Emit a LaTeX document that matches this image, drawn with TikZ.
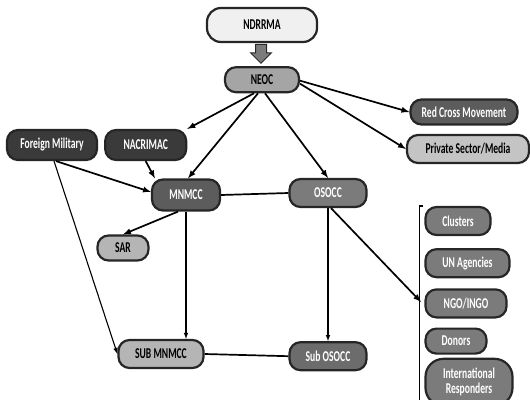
\documentclass[tikz,border=0pt]{standalone}
\usepackage{fontspec}
\setmainfont{Carlito}[FakeStretch=0.64]
\usetikzlibrary{shapes,arrows,positioning}

\definecolor{edgegray}{HTML}{262626}
\definecolor{palegray}{HTML}{F0F0F0}
\definecolor{neocgray}{HTML}{A5A5A5}
\definecolor{darkestgray}{HTML}{3A3A3A}
\definecolor{darkgray}{HTML}{5C5C5C}
\definecolor{midgray}{HTML}{7B7B7B}
\definecolor{subgray}{HTML}{6C6C6C}
\definecolor{lightgray}{HTML}{B5B5B5}
\definecolor{privgray}{HTML}{C4C4C4}

\begin{document}
\begin{tikzpicture}[
  x=1pt, y=-1pt,
  unit/.style={
    rectangle,
    rounded corners=11pt,
    draw=edgegray,
    line width=2.2pt,
    minimum height=27pt,
    inner sep=2pt,
    font=\bfseries\fontsize{15}{15}\selectfont,
    align=center,
    text=white
  },
  flow/.style={->, line width=1.7pt, >=latex},
  thinflow/.style={->, line width=1.1pt, >=latex},
  link/.style={line width=1.7pt}
]

\useasboundingbox (0,0) rectangle (530,399);

% --- NDRRMA / NEOC -------------------------------------------------
\node[unit, fill=palegray, text=black, minimum width=110pt, minimum height=34pt, rounded corners=14pt] (ndrrma) at (262,25) {NDRRMA};
\node[unit, fill=neocgray, text=black, minimum width=74pt, minimum height=25pt, below=23pt of ndrrma] (neoc) {NEOC};
\node[single arrow, draw=edgegray, fill=midgray, line width=1pt, minimum height=19pt, inner sep=5pt, single arrow head extend=5pt, shape border rotate=270] (push) at (261,51) {};

% --- RIGHT OF NEOC -------------------------------------------------
\node[unit, fill=darkgray, minimum width=107pt, minimum height=25pt] (redcross) at (464,112) {Red Cross Movement};
\node[unit, fill=privgray, text=black, minimum width=122pt, minimum height=28pt] (private) at (468,149) {Private Sector/Media};

% --- MILITARY SIDE -------------------------------------------------
\node[unit, fill=darkestgray, minimum width=90pt, minimum height=30pt] (foreign) at (52,145) {Foreign Military};
\node[unit, fill=darkestgray, minimum width=81pt, minimum height=30pt, right=6pt of foreign] (nacrimac) {NACRIMAC};
\node[unit, fill=darkgray, minimum width=68pt, minimum height=31pt] (mnmcc) at (186,195) {MNMCC};
\node[unit, fill=lightgray, text=black, minimum width=51pt, minimum height=25pt] (sar) at (123,248) {SAR};
\node[unit, fill=lightgray, text=black, minimum width=85pt, minimum height=28pt] (submnmcc) at (161,354) {SUB MNMCC};

% --- HUMANITARIAN SIDE ---------------------------------------------
\node[unit, fill=midgray, minimum width=77pt, minimum height=28pt] (osocc) at (328,193) {OSOCC};
\node[unit, fill=subgray, minimum width=77pt, minimum height=28pt, below=133pt of osocc] (subosocc) {Sub OSOCC};

% --- PARTNERS ------------------------------------------------------
\node[unit, fill=midgray, minimum width=65pt, minimum height=28pt] (clusters) at (458,221) {Clusters};
\node[unit, fill=midgray, minimum width=84pt, minimum height=28pt, below=12pt of clusters.south west, anchor=north west] (unagencies) {UN Agencies};
\node[unit, fill=midgray, minimum width=81pt, minimum height=28pt, below=10pt of unagencies.south west, anchor=north west] (ngo) {NGO/INGO};
\node[unit, fill=midgray, minimum width=61pt, minimum height=25pt, below=9pt of ngo.south west, anchor=north west] (donors) {Donors};
\node[unit, fill=midgray, minimum width=87pt, minimum height=47pt, rounded corners=18pt, below=3pt of donors.south west, anchor=north west] (intl) {International\\Responders};

\coordinate (brtop) at ([xshift=-5pt]clusters.north west);
\coordinate (brbot) at ([xshift=-5pt,yshift=3pt]intl.south west);
\coordinate (brmid) at (421,302);
\draw[line width=1.3pt] ([xshift=4pt]brtop) -- (brtop) -- (brbot) -- ([xshift=4pt]brbot);

% --- FRECCE --------------------------------------------------------
\draw[flow] ([xshift=-8pt]neoc.south) -- (nacrimac.north east);
\draw[flow] ([xshift=-4pt]neoc.south) -- ([xshift=2pt]mnmcc.north);
\draw[flow] ([xshift=3pt]neoc.south) -- (osocc.north);
\draw[flow] ([yshift=-1pt]neoc.east) -- (redcross.west);
\draw[flow] ([yshift=-4pt]neoc.east) -- (private.west);
\draw[flow] ([xshift=4pt]foreign.south) -- ([yshift=3pt]mnmcc.west);
\draw[thinflow] ([xshift=2pt]foreign.south) -- (submnmcc.west);
\draw[flow] (nacrimac.south) -- ([xshift=4pt]mnmcc.north west);
\draw[flow] ([xshift=-8pt]mnmcc.south) -- (sar.north);
\draw[thinflow] (mnmcc.south) -- (mnmcc.south |- submnmcc.north);
\draw[thinflow] (osocc.south) -- (subosocc.north);
\draw[link] (mnmcc.east) -- (osocc.west);
\draw[link] (submnmcc.east) -- (subosocc.west);
\draw[flow] ([xshift=3pt]osocc.south) -- (brmid);

\end{tikzpicture}
\end{document}
